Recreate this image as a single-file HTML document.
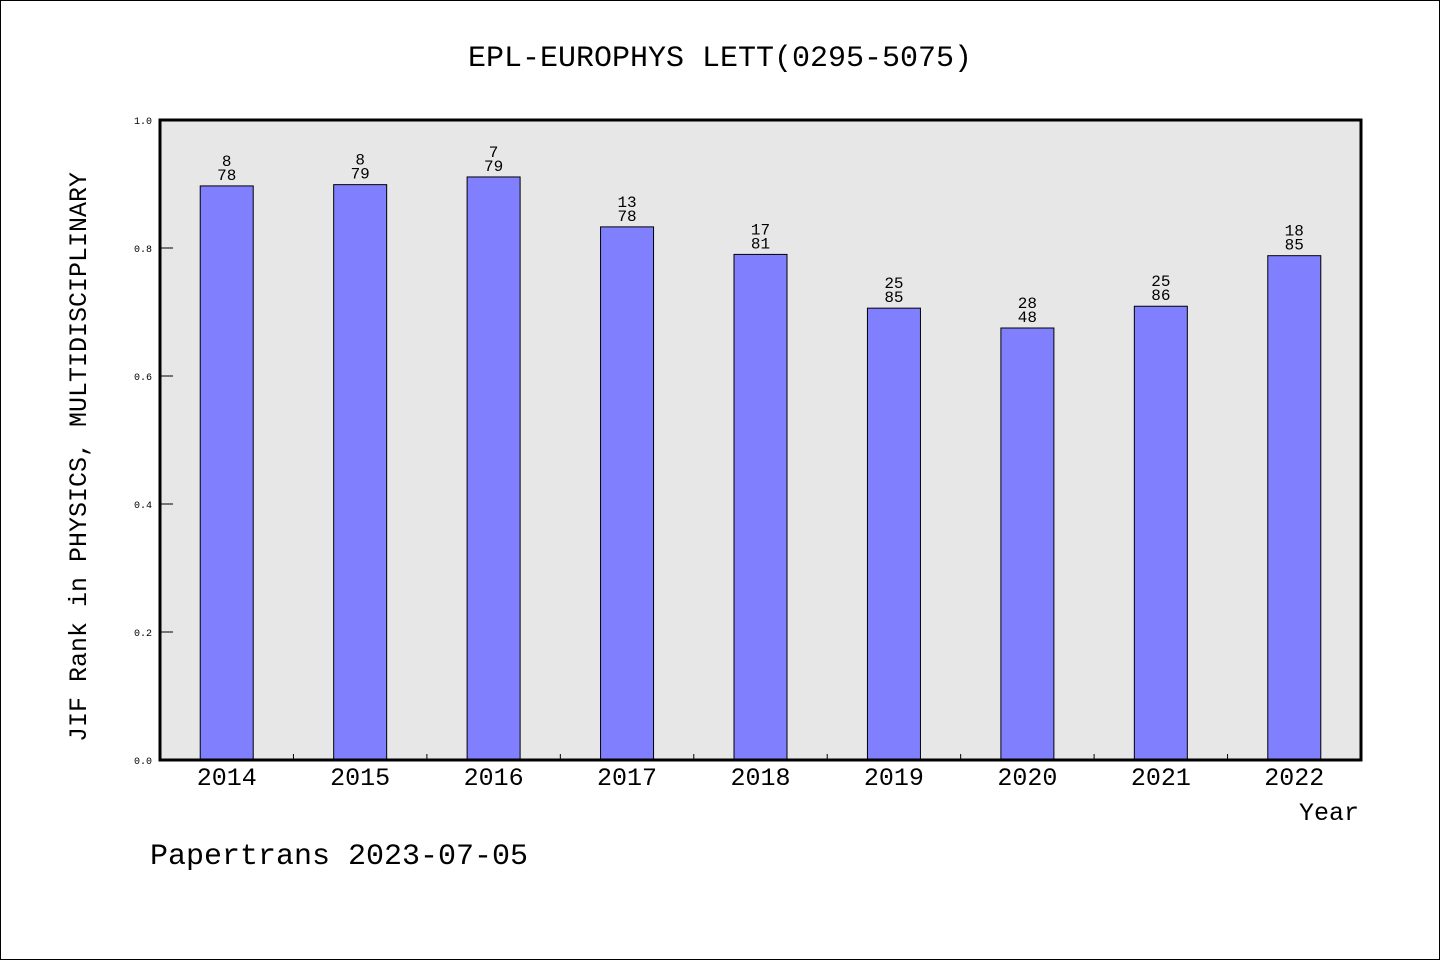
<!DOCTYPE html>
<html><head><meta charset="utf-8"><style>
body{margin:0;background:#fff}
svg text{font-family:"Liberation Mono","WenQuanYi Zen Hei",monospace}
</style></head><body>
<svg width="1440" height="960" xmlns="http://www.w3.org/2000/svg">
<rect x="0.5" y="0.5" width="1439" height="959" fill="#fff" stroke="#000"/>
<text x="720" y="66" font-size="30" text-anchor="middle">EPL-EUROPHYS LETT(0295-5075)</text>
<rect x="160" y="120" width="1201" height="640" fill="#e7e7e7"/>
<g id="marks"></g>
<rect x="160" y="120" width="1201" height="640" fill="none" stroke="#000" stroke-width="3"/>
<text transform="translate(86,457) rotate(-90)" font-size="25" text-anchor="middle">JIF Rank in PHYSICS, MULTIDISCIPLINARY</text>
<text x="1359" y="820" font-size="25" text-anchor="end">Year</text>
<text x="150" y="864" font-size="30">Papertrans 2023-07-05</text>
</svg>
<script>
const years=["2014","2015","2016","2017","2018","2019","2020","2021","2022"];
const values=[0.897,0.899,0.911,0.833,0.790,0.706,0.675,0.709,0.788];
const ranks=["8","8","7","13","17","25","28","25","18"];
const totals=["78","79","79","78","81","85","48","86","85"];
const yTicks=[0,0.2,0.4,0.6,0.8,1.0];
const yTickLabels=["0.0","0.2","0.4","0.6","0.8","1.0"];
const L=160,R=1361,T=120,B=760;
const bw=(R-L)/years.length;
const xS=i=>L+bw*(i+0.5);
const yS=v=>B-(v)*(B-T);
const NS="http://www.w3.org/2000/svg";
const g=document.getElementById('marks');
function mk(t,a,txt){const e=document.createElementNS(NS,t);for(const k in a)e.setAttribute(k,a[k]);if(txt!=null)e.textContent=txt;g.appendChild(e);return e;}
yTicks.forEach((v,i)=>{
 const l=mk('line',{x1:L,x2:L+13,y1:yS(v),y2:yS(v),stroke:'#000','stroke-width':1});
 
 
 const t=mk('text',{x:L-8,y:yS(v)+4,'font-size':10,'text-anchor':'end'},yTickLabels[i]);
 
 
});
for(let i=1;i<years.length;i++){
 const l=mk('line',{x1:L+bw*i,x2:L+bw*i,y1:B,y2:B-6,stroke:'#000','stroke-width':1});
 
 
}
years.forEach((y,i)=>{
 const cx=xS(i),top=yS(values[i]);
 const b=mk('rect',{x:cx-26.5,y:top,width:53,height:B-top,fill:'#8080ff',stroke:'#000','stroke-width':1});
 
 
 const r=mk('text',{x:cx,y:top-20,'font-size':16,'text-anchor':'middle'},ranks[i]);
 
 
 const t=mk('text',{x:cx,y:top-6,'font-size':16,'text-anchor':'middle'},totals[i]);
 
 
 const xl=mk('text',{x:cx,y:785,'font-size':25,'text-anchor':'middle'},y);
 
 
});
</script>
</body></html>
